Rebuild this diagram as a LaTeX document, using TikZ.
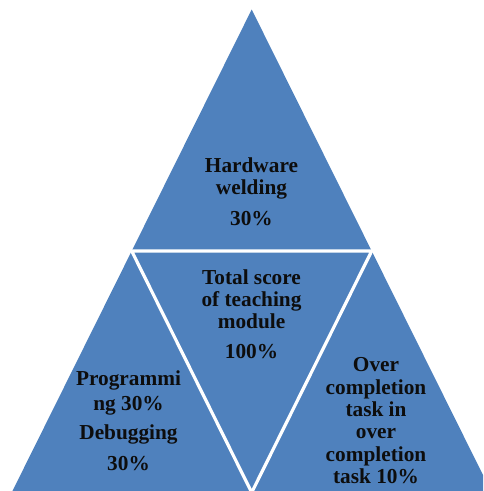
\documentclass[tikz,border=0pt]{standalone}
\usepackage{fontspec}
\setmainfont{Liberation Serif}
\usetikzlibrary{calc}
\definecolor{azulpanel}{HTML}{4F81BD}

\begin{document}
\begin{tikzpicture}[x=1pt, y=-1pt, every node/.style={font=\bfseries\fontsize{21.3}{22}\selectfont, align=center, text=black!95, inner sep=0pt}]

% =============================================
% MARCO
% =============================================
\clip (0,0) rectangle (483,491);

% Vertices del triangulo exterior y puntos medios
\coordinate (A)  at (251.7,9.5);
\coordinate (BL) at (11.7,492.5);
\coordinate (BR) at (491.7,492.5);
\coordinate (ML) at ($(A)!0.5!(BL)$);
\coordinate (MR) at ($(A)!0.5!(BR)$);
\coordinate (MB) at ($(BL)!0.5!(BR)$);

% =============================================
% TRIANGULO Y DIVISIONES
% =============================================
\fill[azulpanel] (A) -- (BL) -- (BR) -- cycle;
\draw[white, line width=3.2pt, line cap=rect] (ML) -- (MR) -- (MB) -- cycle;

% =============================================
% TEXTOS
% =============================================
% Arriba
\node (hw) at (251.5,192) {Hardware\\welding\\[9pt]30\%};
% Centro (invertido)
\node (total) at (251.5,314.5) {Total score\\of teaching\\module\\[8pt]100\%};
% Abajo a la izquierda
\node (prog) at (128.5,420.8) {Programmi\\[3pt]ng 30\%\\[7pt]Debugging\\[9pt]30\%};
% Abajo a la derecha
\node[font=\bfseries\fontsize{21.3}{22.3}\selectfont] (over) at (376,420.7) {Over\\completion\\task in\\over\\completion\\task 10\%};

\end{tikzpicture}
\end{document}
